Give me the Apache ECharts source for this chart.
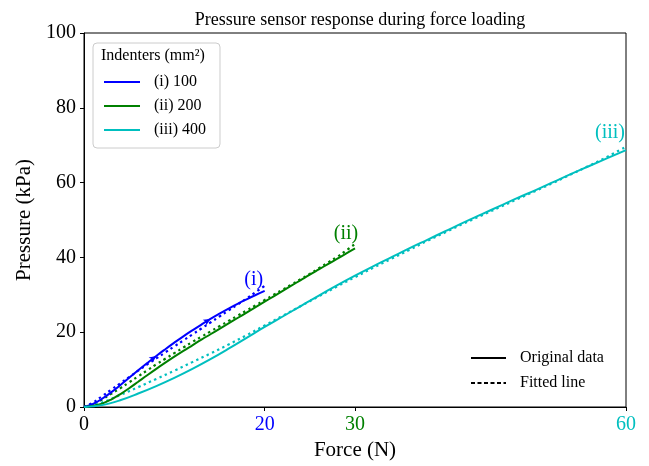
<!DOCTYPE html>
<html>
<head>
<meta charset="utf-8">
<script src="https://cdn.jsdelivr.net/npm/echarts@6/dist/echarts.min.js"></script>
<style>
  html, body { margin: 0; padding: 0; background: #fff; }
  #chart { width: 649px; height: 466px; }
</style>
</head>
<body>
<div id="chart"></div>
<script>
// Force (N) sample points for each indenter
const forceI   = [0,1,2,3,4,5,6,7,8,9,10,11,12,13,14,15,16,17,18,19,20];
const forceII  = [0,1,2,3,4,5,6,7,8,9,10,11,12,13,14,15,16,17,18,19,20,21,22,23,24,25,26,27,28,29,30];
const forceIII = [0,2,4,6,8,10,12,14,16,18,20,22,24,26,28,30,32,34,36,38,40,42,44,46,48,50,52,54,56,58,60];

// Measured pressure (kPa)
const measuredI   = [0,0.8,2.2,3.9,5.8,7.8,9.8,11.75,13.65,15.45,17.2,18.9,20.5,22.05,23.55,24.95,26.3,27.6,28.8,29.95,31.05];
const measuredII  = [0,0.3,0.9,2.0,3.4,5.0,6.75,8.5,10.2,11.85,13.45,15.0,16.5,18.0,19.45,20.9,22.35,23.8,25.25,26.7,28.15,29.6,31.05,32.5,33.95,35.4,36.8,38.2,39.6,41.0,42.4];
const measuredIII = [0,0.5,1.8,3.6,5.6,7.8,10.2,12.8,15.6,18.5,21.4,24.2,27.0,29.8,32.5,35.1,37.6,40.0,42.4,44.7,47.0,49.3,51.5,53.7,55.9,58.0,60.2,62.4,64.5,66.6,68.7];

// Fitted pressure (kPa)
const fittedI   = [0,1.2,2.9,4.6,6.3,8.0,9.7,11.4,13.0,14.6,16.2,17.8,19.4,21.0,22.6,24.2,25.8,27.4,29.0,30.7,32.4];
const fittedII  = [0,0.8,2.0,3.5,5.0,6.6,8.2,9.8,11.4,12.9,14.4,15.9,17.4,18.8,20.2,21.6,23.0,24.4,25.8,27.2,28.6,30.0,31.4,32.8,34.2,35.6,37.1,38.6,40.1,41.8,43.6];
const fittedIII = [0,1.2,3.2,5.3,7.5,9.7,12.0,14.3,16.7,19.2,21.8,24.4,27.0,29.6,32.2,34.7,37.2,39.6,42.0,44.4,46.7,49.0,51.2,53.4,55.6,57.8,60.0,62.3,64.6,67.0,69.6];

// Series names, colours and end tags
const seriesNames = ['(i) 100', '(ii) 200', '(iii) 400'];
const seriesTags  = ['(i)', '(ii)', '(iii)'];
const seriesColors = ['#0000ff', '#008000', '#00bfbf'];

// Force axis ticks and their label colours
const xTickValues = [0, 20, 30, 60];
const xTickColors = ['#000000', '#0000ff', '#008000', '#00bfbf'];
const yTickInterval = 20;

// Indices of the loading-direction arrows on curve (i)
const arrowIndicesI = [8, 14];

const FONT = '"Liberation Serif", "Times New Roman", serif';

function pairs(xs, ys) {
  return xs.map((x, i) => [x, ys[i]]);
}

const forces = [forceI, forceII, forceIII];
const measured = [measuredI, measuredII, measuredIII];
const fitted = [fittedI, fittedII, fittedIII];

// Offsets of the end tags relative to the last fitted point
const tagOffsets = [[-11, -6], [-9, -10], [-16, -14]];

const series = [];
for (let k = 0; k < 3; k++) {
  const data = pairs(forces[k], measured[k]).map((p, i) => {
    if (k === 0 && arrowIndicesI.includes(i)) {
      const slope = (measured[k][i + 1] - measured[k][i - 1]) / (forces[k][i + 1] - forces[k][i - 1]);
      const ang = Math.atan(slope * 3.74 / 9.03) * 180 / Math.PI;
      return { value: p, symbol: 'arrow', symbolSize: [5, 7], symbolRotate: ang - 90,
               itemStyle: { color: seriesColors[k] } };
    }
    return p;
  });
  series.push({
    name: seriesNames[k],
    type: 'line',
    data: data,
    symbol: 'none',
    showAllSymbol: true,
    smooth: 0.4,
    color: seriesColors[k],
    lineStyle: { color: seriesColors[k], width: 2 },
    z: 3,
    animation: false
  });
  const fd = fitted[k];
  const last = fd.length - 1;
  series.push({
    name: 'fit ' + seriesTags[k],
    type: 'line',
    data: pairs(forces[k], fd),
    symbol: 'none',
    smooth: 0.4,
    color: seriesColors[k],
    lineStyle: { color: seriesColors[k], width: 2.2, type: [2.4, 3.4] },
    markPoint: {
      silent: true,
      animation: false,
      data: [{
        coord: [forces[k][last], fd[last]],
        symbol: 'circle', symbolSize: 0,
        label: {
          show: true, position: 'inside', formatter: seriesTags[k],
          offset: tagOffsets[k], color: seriesColors[k],
          fontFamily: FONT, fontSize: 20
        }
      }]
    },
    z: 2,
    animation: false
  });
}

// Style keys for the second legend
series.push({
  name: 'Original data', type: 'line', data: [], symbol: 'none',
  color: '#000', lineStyle: { color: '#000', width: 1.3 }
});
series.push({
  name: 'Fitted line', type: 'line', data: [], symbol: 'none',
  color: '#000', lineStyle: { color: '#000', width: 1.3, type: [4, 2.5] }
});

const chart = echarts.init(document.getElementById('chart'), null, { renderer: 'canvas' });
chart.setOption({
  animation: false,
  backgroundColor: '#fff',
  textStyle: { fontFamily: FONT },
  title: {
    text: 'Pressure sensor response during force loading',
    left: 355, top: 6, textAlign: 'center',
    textStyle: { fontFamily: FONT, fontSize: 18, fontWeight: 'normal', color: '#000' }
  },
  grid: {
    left: 84, right: 23, top: 33, bottom: 59,
    show: true, borderColor: '#000', borderWidth: 1,
    outerBoundsMode: 'none'
  },
  xAxis: {
    type: 'value', min: 0, max: 60,
    name: 'Force (N)', nameLocation: 'middle', nameGap: 33,
    nameTextStyle: { fontFamily: FONT, fontSize: 21, color: '#000' },
    axisLine: { show: true, lineStyle: { color: '#000', width: 1 } },
    axisTick: { show: true, customValues: xTickValues, length: 4, lineStyle: { color: '#000' } },
    axisLabel: {
      customValues: xTickValues, margin: 8,
      fontFamily: FONT, fontSize: 20,
      color: (v) => xTickColors[xTickValues.indexOf(Number(v))] || '#000'
    },
    splitLine: { show: false }
  },
  yAxis: {
    type: 'value', min: 0, max: 100, interval: yTickInterval,
    name: 'Pressure (kPa)', nameLocation: 'middle', nameGap: 48,
    nameTextStyle: { fontFamily: FONT, fontSize: 21, color: '#000' },
    axisLine: { show: true, lineStyle: { color: '#000', width: 1 } },
    axisTick: { show: true, length: 4, lineStyle: { color: '#000' } },
    axisLabel: { margin: 8, fontFamily: FONT, fontSize: 20, color: '#000' },
    splitLine: { show: false }
  },
  legend: [
    {
      data: seriesNames,
      orient: 'vertical', left: 93, top: 43,
      padding: [31, 14, 10, 10],
      itemWidth: 36, itemHeight: 14, itemGap: 8,
      itemStyle: { opacity: 0 },
      borderColor: '#cccccc', borderWidth: 1, borderRadius: 4,
      backgroundColor: 'rgba(255,255,255,0.8)',
      selectedMode: false,
      textStyle: { fontFamily: FONT, fontSize: 16, color: '#000', padding: [0, 0, 0, 9] }
    },
    {
      data: ['Original data', 'Fitted line'],
      orient: 'vertical', left: 470, top: 350,
      padding: 0,
      itemWidth: 35, itemHeight: 14, itemGap: 9,
      itemStyle: { opacity: 0 },
      selectedMode: false,
      textStyle: { fontFamily: FONT, fontSize: 16, color: '#000', padding: [0, 0, 0, 9] }
    }
  ],
  graphic: [
    {
      type: 'text', left: 101, top: 48, z: 100,
      style: { text: 'Indenters (mm²)', font: '16px ' + FONT, fill: '#000' }
    }
  ],
  series: series
});
</script>
</body>
</html>
